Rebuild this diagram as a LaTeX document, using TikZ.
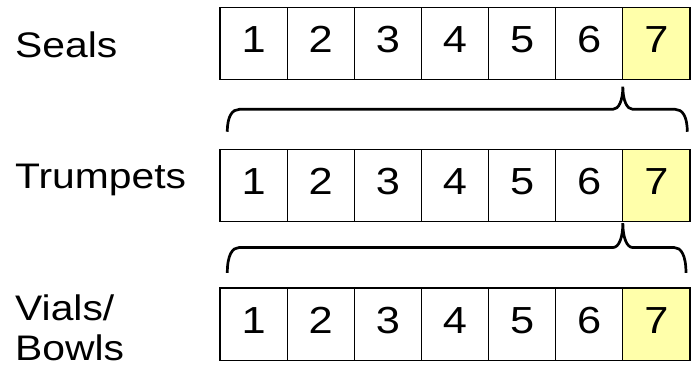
\documentclass[tikz,border=0pt]{standalone}
\usepackage{fontspec}
\setmainfont{Liberation Sans}[FakeStretch=1.15]
\usepackage{xcolor}
\usetikzlibrary{positioning,calc}

\definecolor{lastyellow}{RGB}{255,255,170}

% curly brace: left tip, peak, right tip, rise to flat part, drop from peak
\newcommand{\sevenbrace}[5]{%
  \draw[brace] (#1) .. controls +(0,0.7*#4) and +(-7pt,0) .. ++(12pt,#4)
    -- ($(#2)+(-10pt,-#5)$) .. controls +(6pt,0) and +(0,-0.6*#5) .. (#2)
    .. controls +(0,-0.6*#5) and +(-6pt,0) .. ++(10pt,-#5)
    -- ($(#3)+(-12pt,#4)$) .. controls +(7pt,0) and +(0,0.7*#4) .. (#3);
}

\begin{document}
\begin{tikzpicture}[
  x=1pt, y=1pt,
  cell/.style={
    draw=black, line width=1.2pt,
    minimum width=67.14pt, minimum height=72.5pt,
    inner sep=0pt, outer sep=0pt,
    font=\fontsize{37.7}{40}\selectfont,
    text depth=7.8pt
  },
  lbl/.style={
    anchor=base west, inner sep=0pt, align=left,
    font=\fontsize{35.5}{40}\selectfont
  },
  brace/.style={line width=2.7pt}
]
\useasboundingbox (0,0) rectangle (698,-377);

% seals
\node[cell] (s1) at (253.57,-43.6) {1};
\foreach \i [count=\j from 2] in {1,...,5}
  \node[cell, right=0pt of s\i] (s\j) {\j};
\node[cell, fill=lastyellow, right=0pt of s6] (s7) {7};

% trumpets
\node[cell, below=69.4pt of s1] (t1) {1};
\foreach \i [count=\j from 2] in {1,...,5}
  \node[cell, right=0pt of t\i] (t\j) {\j};
\node[cell, fill=lastyellow, right=0pt of t6] (t7) {7};

% vials / bowls
\node[cell, below=66.2pt of t1] (v1) {1};
\foreach \i [count=\j from 2] in {1,...,5}
  \node[cell, right=0pt of v\i] (v\j) {\j};
\node[cell, fill=lastyellow, right=0pt of v6] (v7) {7};

\node[lbl] (seals) at (15,-57.3) {Seals};
\node[lbl] (trumpets) at (15,-188.3) {Trumpets};
\node[lbl] (vials) at (15,-360.5) {Vials/\\Bowls};

% the seventh opens the next seven
\coordinate (sb-left) at ($(t1.north west)+(7.3,17.5)$);
\coordinate (sb-peak) at ($(s6.south east)+(0,-6.9)$);
\coordinate (sb-right) at ($(t7.north east)+(-2.7,17.5)$);
\sevenbrace{sb-left}{sb-peak}{sb-right}{22.4pt}{22.6pt}

\coordinate (tb-left) at ($(v1.north west)+(7.3,15)$);
\coordinate (tb-peak) at ($(t6.south east)+(0,-1.3)$);
\coordinate (tb-right) at ($(v7.north east)+(-4,15)$);
\sevenbrace{tb-left}{tb-peak}{tb-right}{25.5pt}{24.5pt}

\end{tikzpicture}
\end{document}
